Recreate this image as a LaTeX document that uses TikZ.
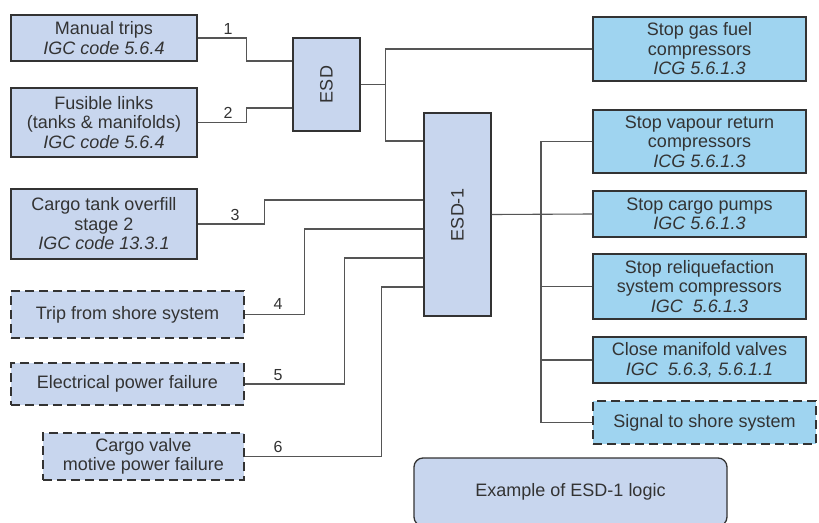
\documentclass[tikz,border=0pt]{standalone}
\usepackage{fontspec}
\setmainfont{Liberation Sans}
\usetikzlibrary{positioning}

\definecolor{inbox}{RGB}{200,214,238}
\definecolor{outbox}{RGB}{159,212,240}
\definecolor{edge}{RGB}{51,51,51}
\definecolor{wire}{RGB}{85,85,85}

\tikzset{
  box/.style={draw=edge, line width=1.3pt, text=edge, align=center, inner sep=1pt,
    font=\fontsize{18}{19.5}\selectfont},
  inbox/.style={box, fill=inbox},
  outbox/.style={box, fill=outbox},
  dashbox/.style={draw=black!80, dash pattern=on 9pt off 5pt, line width=2.3pt},
  link/.style={draw=wire, line width=1.1pt},
  num/.style={text=edge, inner sep=0pt, font=\fontsize{16}{16}\selectfont}
}

\begin{document}
\begin{tikzpicture}[x=1pt,y=-1pt]
        \clip (0,0) rectangle (819,522);
        \fill[white] (0,0) rectangle (819,522);

        % inputs
        \node[inbox, minimum width=186pt, minimum height=46pt] (manual) at (104,38) {Manual trips\\\textit{IGC code 5.6.4}};
        \node[inbox, minimum width=186pt, minimum height=69pt] (fusible) at (104,122.5) {Fusible links\\(tanks \& manifolds)\\\textit{IGC code 5.6.4}};
        \node[inbox, minimum width=186pt, minimum height=70pt] (overfill) at (104,224) {Cargo tank overfill\\stage 2\\\textit{IGC code 13.3.1}};
        \node[inbox, dashbox, minimum width=233pt, minimum height=47pt] (shoretrip) at (127.5,314.5) {Trip from shore system};
        \node[inbox, dashbox, minimum width=233pt, minimum height=42pt] (power) at (127.5,384) {Electrical power failure};
        \node[inbox, dashbox, minimum width=201pt, minimum height=47pt] (valve) at (143.5,456.5) {Cargo valve\\motive power failure};

        % logic
        \node[inbox, minimum width=67pt, minimum height=93pt] (esd) at (326.5,84.5) {\rotatebox{90}{ESD}};
        \node[inbox, minimum width=67pt, minimum height=203pt] (esd1) at (457.5,214.5) {\rotatebox{90}{ESD-1}};

        % actions
        \node[outbox, minimum width=213pt, minimum height=64pt] (gasfuel) at (699.5,49) {Stop gas fuel\\compressors\\\textit{ICG 5.6.1.3}};
        \node[outbox, minimum width=213pt, minimum height=63pt] (vapour) at (699.5,141.5) {Stop vapour return\\compressors\\\textit{ICG 5.6.1.3}};
        \node[outbox, minimum width=213pt, minimum height=46pt] (pumps) at (699.5,214) {Stop cargo pumps\\\textit{IGC 5.6.1.3}};
        \node[outbox, minimum width=213pt, minimum height=65pt] (reliq) at (699.5,286.5) {Stop reliquefaction\\system compressors\\\textit{IGC\ \ 5.6.1.3}};
        \node[outbox, minimum width=213pt, minimum height=46pt] (manifold) at (699.5,360) {Close manifold valves\\\textit{IGC\ \ 5.6.3, 5.6.1.1}};
        \node[outbox, dashbox, minimum width=223pt, minimum height=43pt] (signal) at (704.5,422.5) {Signal to shore system};

        \node[inbox, rounded corners=9pt, minimum width=313pt, minimum height=68pt] (example) at (570.5,492) {Example of ESD-1 logic};

        % connectors into ESD and ESD-1
        \draw[link] (manual.east) -- ++(49,0) |- ([yshift=23.5pt]esd.west);
        \draw[link] (fusible.east) -- ++(49,0) |- ([yshift=-23.5pt]esd.west);
        \draw[link] (esd.east) -- ++(25,0) coordinate (esdbus);
        \draw[link] (gasfuel.west) -| (esdbus) |- ([yshift=73.5pt]esd1.west);
        \draw[link] (overfill.east) -- ++(67,0) |- ([yshift=14.5pt]esd1.west);
        \draw[link] (shoretrip.east) -- ++(59,0) |- ([yshift=-14.5pt]esd1.west);
        \draw[link] (power.east) -- ++(99,0) |- ([yshift=-43.5pt]esd1.west);
        \draw[link] (valve.east) -- ++(136,0) |- ([yshift=-72.5pt]esd1.west);

        % connectors out of ESD-1
        \coordinate (bus) at (541,214);
        \draw[link] (esd1.east) -- (pumps.west);
        \draw[link] (vapour.west) -| (bus) |- (signal.west);
        \foreach \act in {reliq,manifold}
          \draw[link] (\act.west) -- (bus |- \act.west);

        \node[num] (lbl1) at (228,29) {1};
        \node[num] (lbl2) at (228,113) {2};
        \node[num] (lbl3) at (235,215) {3};
        \node[num] (lbl4) at (278,304) {4};
        \node[num] (lbl5) at (278,375) {5};
        \node[num] (lbl6) at (278,447) {6};
\end{tikzpicture}
\end{document}
